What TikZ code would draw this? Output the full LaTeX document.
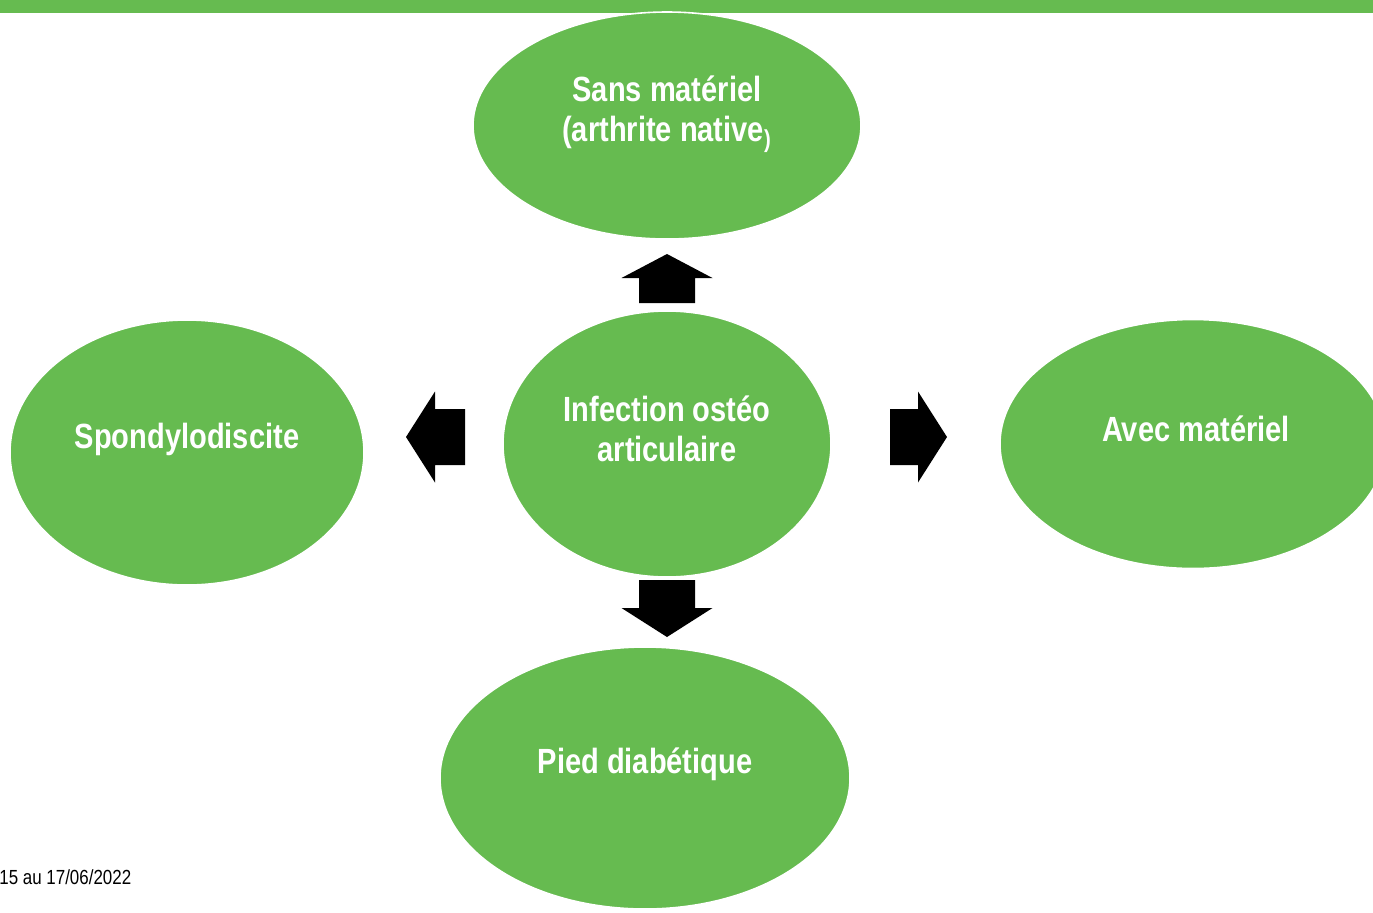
\documentclass[tikz,border=0pt]{standalone}
\usepackage{fontspec}
\setmainfont{Liberation Sans}[FakeStretch=0.83]
\usetikzlibrary{shapes.geometric}
\definecolor{leafgreen}{RGB}{102,187,80}
\begin{document}
\begin{tikzpicture}[x=0.5pt, y=-0.5pt,
    bubble/.style={ellipse, fill=leafgreen, draw=white, line width=0.8pt, inner sep=0pt},
    caption/.style={text=white, font=\fontsize{17.5}{20}\selectfont\bfseries, align=center, inner sep=0pt},
    datestamp/.style={font=\fontsize{10.2}{12}\selectfont, inner sep=0pt},
    pics/blockarrow/.style args={#1/#2}{code={
        \fill (0,-28) -- (#1,-28) -- (#1,-45.5) -- ({#1+#2},0)
            -- (#1,45.5) -- (#1,28) -- (0,28) -- cycle;}}]
    \useasboundingbox (0,0) rectangle (1373,912);
    \fill[leafgreen] (0,0) rectangle (1373,13);
    % bubbles
    \node[bubble, minimum width=388pt*0.5, minimum height=227pt*0.5] (native) at (667,125.5) {};
    \node[bubble, minimum width=328pt*0.5, minimum height=266pt*0.5] (ioa) at (667,444) {};
    \node[bubble, minimum width=354pt*0.5, minimum height=265pt*0.5] (spondylo) at (187,452.5) {};
    \node[bubble, minimum width=386pt*0.5, minimum height=249pt*0.5] (materiel) at (1193,444) {};
    \node[bubble, minimum width=410pt*0.5, minimum height=262pt*0.5] (pied) at (645,778) {};
    % texts
    \node[caption] (nativetxt) at (667,114) {Sans matériel\\(arthrite native\textsubscript{)}};
    \node[caption] (ioatxt) at (667,429) {Infection ostéo\\articulaire};
    \node[caption] (spondylotxt) at (187,439) {Spondylodiscite};
    \node[caption] (materieltxt) at (1196,429) {Avec matériel};
    \node[caption] (piedtxt) at (645,764) {Pied diabétique};
    % arrows
    \pic[rotate=90] at (667,303) {blockarrow=25/24};
    \pic[rotate=-90] at (667,580) {blockarrow=28/29};
    \pic at (890,437) {blockarrow=28/29};
    \pic[rotate=180] at (465,437) {blockarrow=30/29};
    \node[datestamp, anchor=base west] (date) at (-1,884) {15 au 17/06/2022};
\end{tikzpicture}
\end{document}
